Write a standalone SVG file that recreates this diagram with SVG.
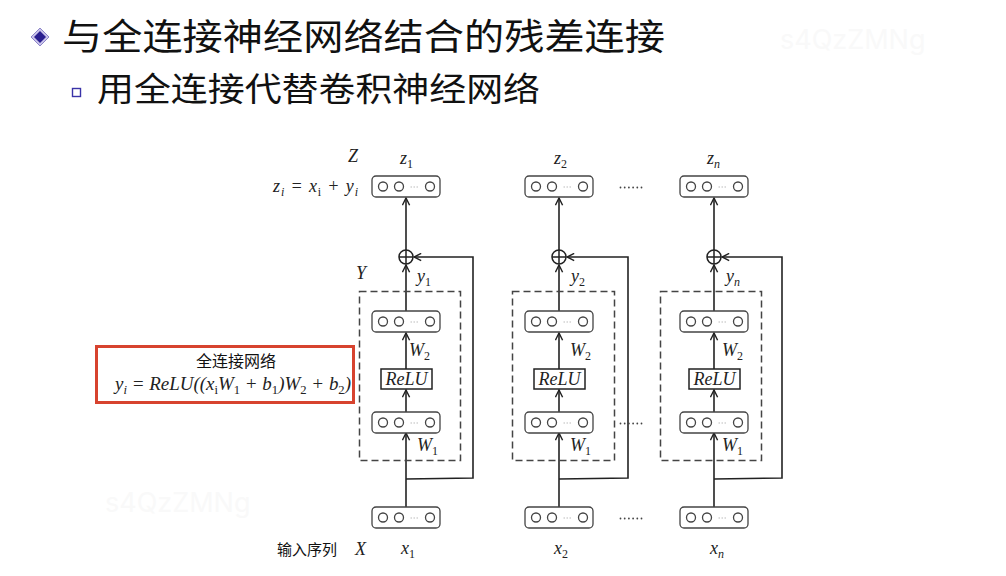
<svg xmlns="http://www.w3.org/2000/svg" xmlns:xlink="http://www.w3.org/1999/xlink" width="1006" height="576" viewBox="0 0 1006 576">
<style>
.cjk{font-family:"Noto Sans CJK SC","Noto Sans",sans-serif;fill:#111}
.m{font-family:"Liberation Serif",serif;font-style:italic;font-size:18px;fill:#222}
.s{font-size:12px}
.u{font-size:12px;font-style:normal}
.ln{stroke:#222;stroke-width:1.6;fill:none}
.box{fill:#fff;stroke:#444;stroke-width:1.3}
.cir{fill:#fff;stroke:#444;stroke-width:1.3}
.dash{fill:none;stroke:#444;stroke-width:1.5;stroke-dasharray:7 4}
.dot{fill:#444}
.wm{font-family:Inter,"Liberation Sans",sans-serif;font-size:27px;fill:#f9f9f9}
</style>
<defs>
<marker id="ah" viewBox="0 0 10 10" refX="9" refY="5" markerWidth="9" markerHeight="9" markerUnits="userSpaceOnUse" orient="auto">
<path d="M1,1 L9,5 L1,9" fill="none" stroke="#222" stroke-width="1.6"/>
</marker>
<g id="vec">
<rect x="0" y="0" width="68" height="21" rx="4" class="box"/>
<circle cx="11" cy="10.5" r="4.5" class="cir"/>
<circle cx="27" cy="10.5" r="4.5" class="cir"/>
<circle cx="58" cy="10.5" r="4.5" class="cir"/>
<path d="M38.5,11 h1.5 M41.5,11 h1.5 M44.5,11 h1.5" stroke="#bbb" stroke-width="1"/>
</g>
<g id="ell">
<circle cx="0" cy="0" r="0.9" class="dot"/>
<circle cx="4.2" cy="0" r="0.9" class="dot"/>
<circle cx="8.4" cy="0" r="0.9" class="dot"/>
<circle cx="12.6" cy="0" r="0.9" class="dot"/>
<circle cx="16.8" cy="0" r="0.9" class="dot"/>
<circle cx="21" cy="0" r="0.9" class="dot"/>
</g>
</defs>
<rect width="1006" height="576" fill="#fff"/>
<text class="wm" x="780" y="49">s4QzZMNg</text>
<text class="wm" x="105" y="512">s4QzZMNg</text>

<g id="title">
<path d="M40,28 L49,37 L40,46 L31,37 Z" fill="#c9c3ea" stroke="#8d86c9" stroke-width="1"/>
<path d="M40,31 L46,37 L40,43 L34,37 Z" fill="#2a1f8f"/>
<text class="cjk" x="62" y="50" font-size="36" textLength="603" lengthAdjust="spacingAndGlyphs">与全连接神经网络结合的残差连接</text>
</g>
<g id="subtitle">
<rect x="72.5" y="88.5" width="8" height="8" fill="#fff" stroke="#3a33a8" stroke-width="1.4"/>
<text class="cjk" x="97" y="101" font-size="33" textLength="443" lengthAdjust="spacingAndGlyphs">用全连接代替卷积神经网络</text>
</g>

<g id="connectors">
<line class="ln" x1="406" y1="507" x2="406" y2="433" marker-end="url(#ah)"/>
<line class="ln" x1="406" y1="412" x2="406" y2="390" marker-end="url(#ah)"/>
<line class="ln" x1="406" y1="369" x2="406" y2="333" marker-end="url(#ah)"/>
<line class="ln" x1="406" y1="311" x2="406" y2="265" marker-end="url(#ah)"/>
<line class="ln" x1="406" y1="250" x2="406" y2="198" marker-end="url(#ah)"/>
<path class="ln" d="M406,479 L473,478 L473,257 L414,257" marker-end="url(#ah)"/>
<line class="ln" x1="559" y1="507" x2="559" y2="433" marker-end="url(#ah)"/>
<line class="ln" x1="559" y1="412" x2="559" y2="390" marker-end="url(#ah)"/>
<line class="ln" x1="559" y1="369" x2="559" y2="333" marker-end="url(#ah)"/>
<line class="ln" x1="559" y1="311" x2="559" y2="265" marker-end="url(#ah)"/>
<line class="ln" x1="559" y1="250" x2="559" y2="198" marker-end="url(#ah)"/>
<path class="ln" d="M559,479 L628,478 L628,257 L567,257" marker-end="url(#ah)"/>
<line class="ln" x1="714" y1="507" x2="714" y2="433" marker-end="url(#ah)"/>
<line class="ln" x1="714" y1="412" x2="714" y2="390" marker-end="url(#ah)"/>
<line class="ln" x1="714" y1="369" x2="714" y2="333" marker-end="url(#ah)"/>
<line class="ln" x1="714" y1="311" x2="714" y2="265" marker-end="url(#ah)"/>
<line class="ln" x1="714" y1="250" x2="714" y2="198" marker-end="url(#ah)"/>
<path class="ln" d="M714,479 L782,478 L782,257 L722,257" marker-end="url(#ah)"/>
</g>

<g id="col1">
<rect class="dash" x="359.5" y="291.5" width="101" height="169"/>
<use xlink:href="#vec" x="372" y="176"/>
<use xlink:href="#vec" x="372" y="311"/>
<use xlink:href="#vec" x="372" y="412"/>
<use xlink:href="#vec" x="372" y="507"/>
<rect x="381" y="369" width="51" height="20" fill="#fff" stroke="#222" stroke-width="1.5"/>
<text class="m" x="406.5" y="385" text-anchor="middle" font-size="17">ReLU</text>
<circle cx="406" cy="257" r="7" fill="#fff" stroke="#222" stroke-width="1.5"/>
<path d="M399,257 H413 M406,250 V264" stroke="#222" stroke-width="1.5"/>
<text class="m" x="348" y="162">Z</text>
<text class="m" x="400" y="164">z<tspan class="u" dy="4">1</tspan></text>
<text class="m" x="273" y="192" textLength="85" lengthAdjust="spacing">z<tspan class="s" dy="4">i</tspan><tspan dy="-4"> = x</tspan><tspan class="u" dy="4">i</tspan><tspan dy="-4"> + y</tspan><tspan class="s" dy="4">i</tspan></text>
<text class="m" x="356" y="279">Y</text>
<text class="m" x="417" y="282">y<tspan class="u" dy="4">1</tspan></text>
<text class="m" x="409" y="356">W<tspan class="u" dy="4">2</tspan></text>
<text class="m" x="417" y="451">W<tspan class="u" dy="4">1</tspan></text>
<text class="m" x="401" y="554">x<tspan class="u" dy="4">1</tspan></text>
<text class="cjk" x="277" y="555" font-size="15" fill="#333">输入序列</text>
<text class="m" x="355" y="555">X</text>
</g>

<g id="col2">
<rect class="dash" x="512.5" y="291.5" width="102" height="169"/>
<use xlink:href="#vec" x="525" y="176"/>
<use xlink:href="#vec" x="525" y="311"/>
<use xlink:href="#vec" x="525" y="412"/>
<use xlink:href="#vec" x="525" y="507"/>
<rect x="534" y="369" width="51" height="20" fill="#fff" stroke="#222" stroke-width="1.5"/>
<text class="m" x="559.5" y="385" text-anchor="middle" font-size="17">ReLU</text>
<circle cx="559" cy="257" r="7" fill="#fff" stroke="#222" stroke-width="1.5"/>
<path d="M552,257 H566 M559,250 V264" stroke="#222" stroke-width="1.5"/>
<text class="m" x="554" y="164">z<tspan class="u" dy="4">2</tspan></text>
<text class="m" x="571" y="282">y<tspan class="u" dy="4">2</tspan></text>
<text class="m" x="570" y="356">W<tspan class="u" dy="4">2</tspan></text>
<text class="m" x="570" y="451">W<tspan class="u" dy="4">1</tspan></text>
<text class="m" x="554" y="554">x<tspan class="u" dy="4">2</tspan></text>
</g>

<g id="coln">
<rect class="dash" x="660.5" y="291.5" width="101" height="169"/>
<use xlink:href="#vec" x="680" y="176"/>
<use xlink:href="#vec" x="680" y="311"/>
<use xlink:href="#vec" x="680" y="412"/>
<use xlink:href="#vec" x="680" y="507"/>
<rect x="689" y="369" width="51" height="20" fill="#fff" stroke="#222" stroke-width="1.5"/>
<text class="m" x="714.5" y="385" text-anchor="middle" font-size="17">ReLU</text>
<circle cx="714" cy="257" r="7" fill="#fff" stroke="#222" stroke-width="1.5"/>
<path d="M707,257 H721 M714,250 V264" stroke="#222" stroke-width="1.5"/>
<text class="m" x="707" y="164">z<tspan class="s" dy="4">n</tspan></text>
<text class="m" x="726" y="282">y<tspan class="s" dy="4">n</tspan></text>
<text class="m" x="722" y="356">W<tspan class="u" dy="4">2</tspan></text>
<text class="m" x="722" y="451">W<tspan class="u" dy="4">1</tspan></text>
<text class="m" x="710" y="554">x<tspan class="s" dy="4">n</tspan></text>
</g>

<g id="ellipses">
<use xlink:href="#ell" x="620.5" y="187.5"/>
<use xlink:href="#ell" x="620.5" y="423.5"/>
<use xlink:href="#ell" x="620.5" y="518.5"/>
</g>

<g id="formula">
<rect x="96.5" y="346.5" width="257" height="56" fill="none" stroke="#d7432f" stroke-width="3"/>
<text class="cjk" x="236" y="367" font-size="16" text-anchor="middle" fill="#555">全连接网络</text>
<text class="m" x="115" y="390" textLength="236" lengthAdjust="spacingAndGlyphs">y<tspan class="s" dy="4">i</tspan><tspan dy="-4"> = ReLU((x</tspan><tspan class="u" dy="4">i</tspan><tspan dy="-4">W</tspan><tspan class="u" dy="4">1</tspan><tspan dy="-4"> + b</tspan><tspan class="u" dy="4">1</tspan><tspan dy="-4">)W</tspan><tspan class="u" dy="4">2</tspan><tspan dy="-4"> + b</tspan><tspan class="u" dy="4">2</tspan><tspan dy="-4">)</tspan></text>
</g>
</svg>
